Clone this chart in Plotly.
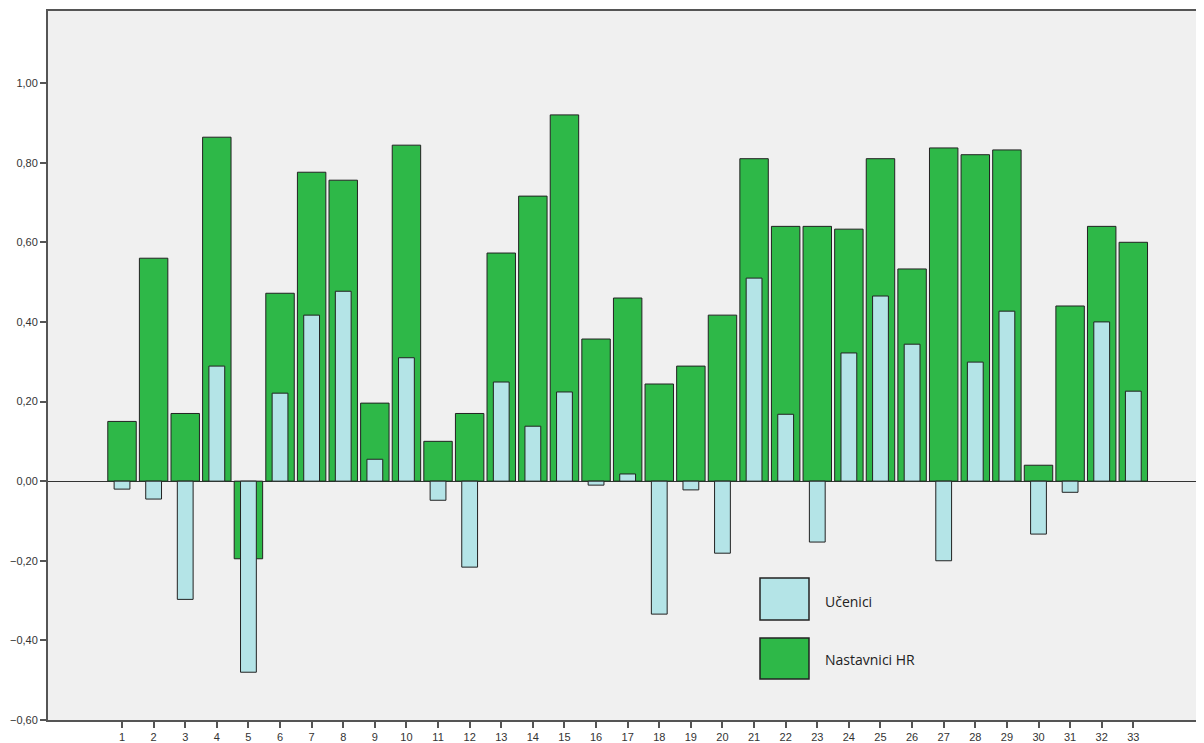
import plotly.graph_objects as go

categories = list(range(1, 34))
nastavnici_hr = [0.15, 0.56, 0.17, 0.864, -0.195, 0.472, 0.776, 0.756, 0.196, 0.844,
                 0.10, 0.17, 0.573, 0.716, 0.92, 0.357, 0.46, 0.244, 0.289, 0.417,
                 0.81, 0.64, 0.64, 0.633, 0.81, 0.533, 0.837, 0.82, 0.832, 0.04,
                 0.44, 0.64, 0.60]
ucenici = [-0.02, -0.045, -0.297, 0.289, -0.48, 0.221, 0.417, 0.477, 0.055, 0.31,
           -0.048, -0.216, 0.249, 0.138, 0.224, -0.01, 0.018, -0.334, -0.022, -0.181,
           0.51, 0.168, -0.153, 0.322, 0.465, 0.344, -0.20, 0.299, 0.427, -0.133,
           -0.028, 0.40, 0.226]
legend_labels = ["Učenici", "Nastavnici HR"]
y_ticks = [-0.6, -0.4, -0.2, 0.0, 0.2, 0.4, 0.6, 0.8, 1.0]

GREEN = "#2eb848"
CYAN = "#b4e4e7"
EDGE = "#222222"

fig = go.Figure()
fig.add_trace(go.Bar(x=categories, y=nastavnici_hr, width=0.9, name=legend_labels[1],
                     marker=dict(color=GREEN, line=dict(color=EDGE, width=1))))
fig.add_trace(go.Bar(x=categories, y=ucenici, width=0.5, name=legend_labels[0],
                     marker=dict(color=CYAN, line=dict(color=EDGE, width=1))))

# custom legend (swatches + labels); plot width 1164 px
PW = 1164.0
def px(x):
    return (x - 48) / PW

swatches = [(0.1410, 0.2003, CYAN, 0.1678, legend_labels[0]),
            (0.0578, 0.1157, GREEN, 0.0860, legend_labels[1])]
for y0, y1, col, ty, lab in swatches:
    fig.add_shape(type="rect", xref="paper", yref="paper", x0=px(760), x1=px(809),
                  y0=y0, y1=y1, fillcolor=col, line=dict(color=EDGE, width=1.5))
    fig.add_annotation(xref="paper", yref="paper", x=px(823), y=ty, text=lab,
                       showarrow=False, xanchor="left", yanchor="middle",
                       font=dict(family="Open Sans", size=14, color="#222"))

fig.update_layout(
    barmode="overlay",
    width=1204, height=735,
    margin=dict(l=40, r=0, t=3, b=23),
    paper_bgcolor="white",
    plot_bgcolor="#f0f0f0",
    separators=",.",
    showlegend=False,
    font=dict(family="Liberation Sans, Arial", size=11, color="#333"),
)
fig.update_xaxes(
    range=[-1.342, 35.49], tickmode="array", tickvals=categories,
    ticktext=[str(c) for c in categories],
    showgrid=False, zeroline=False, showline=True, linecolor="#555", linewidth=2,
    mirror=True, ticks="outside", ticklen=6, tickcolor="#555", tickwidth=1.5,
    tickfont=dict(size=11, color="#333"),
)
fig.update_yaxes(
    range=[-0.6, 1.181], tickmode="array", tickvals=y_ticks, tickformat=".2f",
    showgrid=False, zeroline=True, zerolinecolor="#333", zerolinewidth=1,
    showline=True, linecolor="#555", linewidth=2,
    ticks="outside", ticklen=6, tickcolor="#555", tickwidth=1.5,
    tickfont=dict(size=11, color="#333"),
)

fig.write_html("out.html")
